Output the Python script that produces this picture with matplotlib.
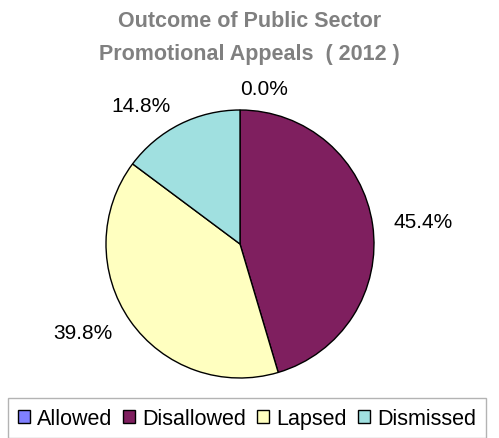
import matplotlib.pyplot as plt
import numpy as np

plt.rcParams['font.family'] = ['Liberation Sans', 'DejaVu Sans']

labels = ['Allowed', 'Disallowed', 'Lapsed', 'Dismissed']
values = [0.0, 45.4, 39.8, 14.8]
colors = ['#8080FF', '#7F1F5F', '#FFFFC0', '#A0E0E0']

fig = plt.figure(figsize=(4.99, 4.39), dpi=100)
ax = fig.add_axes([106/499, 60/439, 268/499, 268/439])

wedges, texts, autotexts = ax.pie(values, colors=colors, startangle=90, counterclock=False,
                                  autopct='%1.1f%%', pctdistance=1.16,
                                  wedgeprops=dict(edgecolor='black', linewidth=1.0))
ax.set_xlim(-1, 1)
ax.set_ylim(-1, 1)
ax.set_aspect('equal')

for w, t in zip(wedges, autotexts):
    mid = np.deg2rad((w.theta1 + w.theta2) / 2)
    c = np.cos(mid)
    t.set_ha('left' if c > -0.05 else 'right')
    t.set_fontsize(15)
    t.set_clip_on(False)

fig.text(0.5, 0.975, 'Outcome of Public Sector\nPromotional Appeals  ( 2012 )',
         ha='center', va='top', fontsize=15.5, fontweight='bold', color='#808080',
         linespacing=1.75)

leg = fig.legend(wedges, labels, loc='upper left', bbox_to_anchor=(8/499, 1 - 399/439),
                 ncol=4, fontsize=15.5, frameon=True, fancybox=False,
                 handlelength=0.55, handleheight=0.55, handletextpad=0.35,
                 columnspacing=0.5, borderpad=0.45, borderaxespad=0)
leg.get_frame().set_edgecolor('#A0A0A0')
leg.get_frame().set_linewidth(1.0)

plt.savefig('out.png')
